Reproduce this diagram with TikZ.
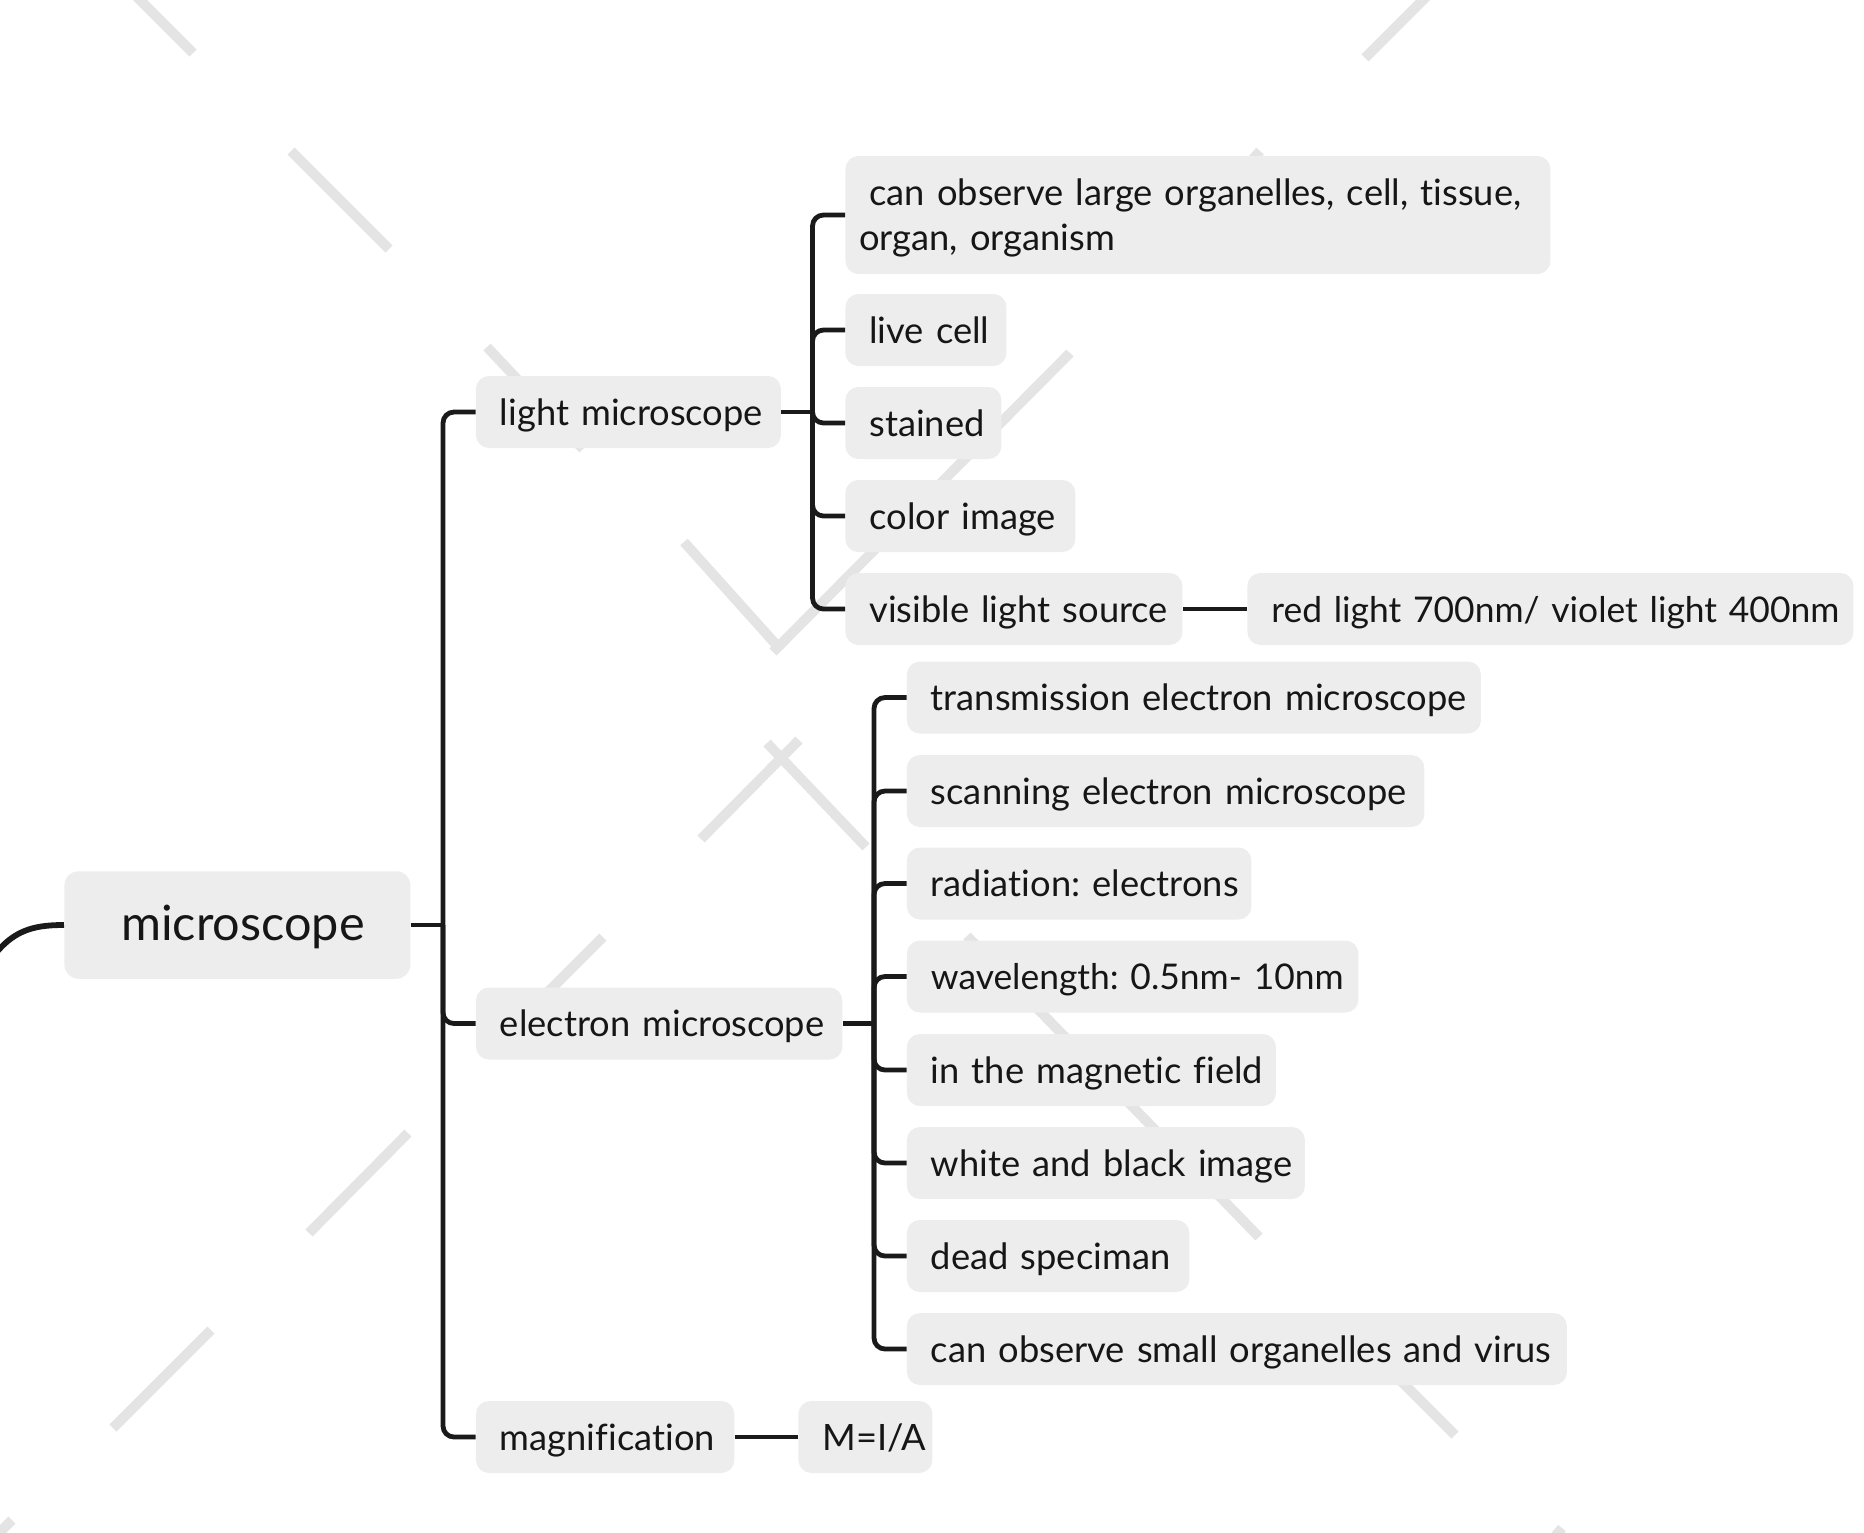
\documentclass[tikz,border=0pt]{standalone}
\usepackage{fontspec}
\setmainfont{Lato}[Ligatures={NoCommon,NoContextual}]
\definecolor{boxgray}{HTML}{EDEDED}
\definecolor{txtc}{HTML}{161616}
\definecolor{linec}{HTML}{1A1A1A}
\definecolor{wmgray}{HTML}{E4E4E4}
\frenchspacing
\begin{document}
\begin{tikzpicture}[x=0.5pt,y=-0.5pt,
  box/.style={fill=boxgray, rounded corners=6.5pt, inner xsep=12pt, inner ysep=0pt,
    minimum height=36pt, anchor=west, align=left, text=txtc,
    text height=16pt, text depth=3pt, font=\fontsize{18.15}{22.5}\selectfont\frenchspacing},
  numbox/.style={box, font=\fontsize{17.7}{22.5}\selectfont\frenchspacing},
  rootbox/.style={fill=boxgray, rounded corners=7pt, inner sep=0pt,
    minimum width=173pt, minimum height=53.75pt, anchor=west, text=txtc,
    text height=19pt, text depth=4pt, font=\fontsize{24.3}{28}\selectfont},
  conn/.style={draw=linec, line width=2.4pt, rounded corners=5.5pt},
  wm/.style={draw=wmgray, line width=5pt}]
\useasboundingbox (0,0) rectangle (1864,1532);
% watermark strokes
\draw[wm] (135,-5) -- (193,53);
\draw[wm] (291,151) -- (389,249);
\draw[wm] (1365,58) -- (1430,-7);
\draw[wm] (487,347) -- (583,449);
\draw[wm] (684,542) -- (781,650);
\draw[wm] (773,652) -- (1070,353);
\draw[wm] (1260,151) -- (1230,185);
\draw[wm] (701,839) -- (799,740);
\draw[wm] (767,743) -- (866,847);
\draw[wm] (603,937) -- (520,1020);
\draw[wm] (309,1233) -- (408,1133);
\draw[wm] (113,1428) -- (211,1330);
\draw[wm] (-5,1537) -- (12,1520);
\draw[wm] (967,936) -- (1259,1237);
\draw[wm] (1340,1320) -- (1455,1435);
\draw[wm] (1552,1540) -- (1562,1528);
% nodes
\node[rootbox] (root) at (64,925) {\hspace*{5.5pt}microscope};
\node[box, text width=128.5pt] (lm) at (475.5,412) {\mbox{light microscope}};
\node[box, text width=159.25pt] (em) at (475.5,1023.5) {\mbox{electron microscope}};
\node[box, text width=105.25pt] (mag) at (475.5,1437) {\mbox{magnification}};
\node[box, text width=43pt] (mia) at (798,1437) {\mbox{M=I/A}};
\node[box, text width=338.5pt, inner xsep=7pt, minimum height=59pt, text height=6pt, text depth=16pt] (lc1) at (845,215)
  {\begin{tabular}[t]{@{}l@{}}\hspace*{5pt}can observe large organelles, cell, tissue,\\organ, organism\end{tabular}};
\node[box, text width=56.5pt] (lc2) at (845,330) {\mbox{live cell}};
\node[box, text width=54pt] (lc3) at (845,423) {\mbox{stained}};
\node[box, text width=91pt] (lc4) at (845,516) {\mbox{color image}};
\node[box, text width=144.5pt] (lc5) at (845,609) {\mbox{visible light source}};
\node[numbox, text width=279pt] (red) at (1247,609) {\mbox{red light 700nm/ violet light 400nm}};
\node[box, text width=263pt] (ec1) at (906.5,697.5) {\mbox{transmission electron microscope}};
\node[box, text width=234.75pt] (ec2) at (906.5,791) {\mbox{scanning electron microscope}};
\node[box, text width=148.25pt] (ec3) at (906.5,883.5) {\mbox{radiation: electrons}};
\node[numbox, text width=201.75pt] (ec4) at (906.5,976.5) {\mbox{wavelength: 0.5nm- 10nm}};
\node[box, text width=160.5pt] (ec5) at (906.5,1070) {\mbox{in the magnetic field}};
\node[box, text width=175pt] (ec6) at (906.5,1163) {\mbox{white and black image}};
\node[box, text width=117.25pt] (ec7) at (906.5,1256) {\mbox{dead speciman}};
\node[box, text width=306pt] (ec8) at (906.5,1349) {\mbox{can observe small organelles and virus}};
% junction points
\coordinate (tr) at (443,925);
\coordinate (lb) at (812.5,412);
\coordinate (eb) at (874,1023.5);
\coordinate (rin) at (-30,995);
% root incoming curve
\draw[draw=linec, line width=2.9pt] (rin) .. controls (0,935) and (22,925) .. (root.west);
% trunk
\draw[conn] (root.east) -- (tr);
\draw[conn] (tr) |- (lm.west);
\draw[conn] (tr) |- (em.west);
\draw[conn] (tr) |- (mag.west);
% light microscope bracket
\draw[conn] (lm.east) -- (lb);
\foreach \c in {lc1,lc2,lc3,lc4,lc5} \draw[conn] (lb) |- (\c.west);
\draw[conn] (lc5.east) -- (red.west);
% electron microscope bracket
\draw[conn] (em.east) -- (eb);
\foreach \c in {ec1,ec2,ec3,ec4,ec5,ec6,ec7,ec8} \draw[conn] (eb) |- (\c.west);
% magnification
\draw[conn] (mag.east) -- (mia.west);
\end{tikzpicture}
\end{document}
